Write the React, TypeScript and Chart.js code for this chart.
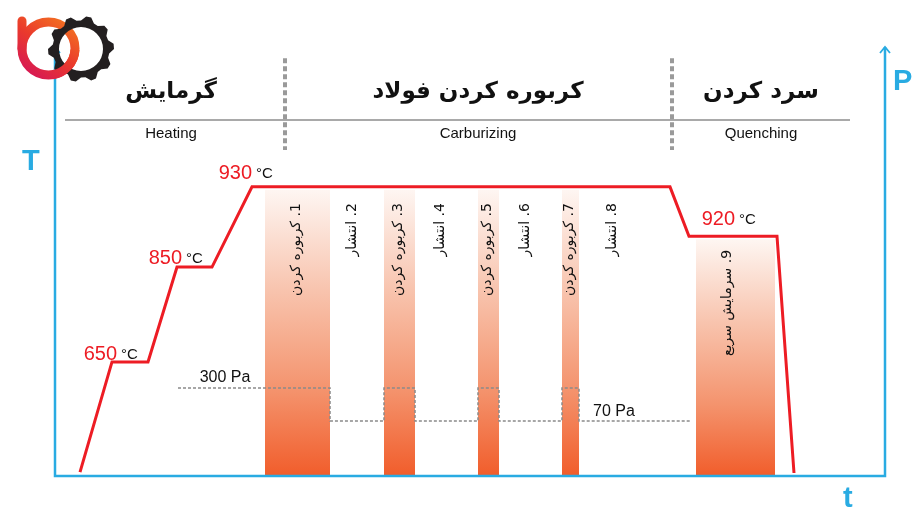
import React, { useEffect, useRef } from 'react';
import { Chart, registerables } from 'chart.js';
Chart.register(...registerables);

// ---- scale ranges (schematic time / level units) ----
const TIME_MAX = 830;
const LEVEL_MAX = 100;

// ---- temperature profile (schematic levels) ----
const tempTime = [25, 57, 93, 122, 157, 197, 615, 634, 722, 739];
const tempLevel = [0.9, 26.6, 26.6, 48.7, 48.7, 67.4, 67.4, 55.9, 55.9, 0.7];

// temperature labels
const tempLabelText = ['650', '850', '930', '920'];
const tempLabelTime = [62, 127, 197, 680];
const tempLabelLevel = [27.0, 49.4, 69.2, 58.5];

// ---- pressure profile (Pa) ----
const pressureTime = [123, 275, 275, 329, 329, 360, 360, 423, 423, 444, 444, 507, 507, 524, 524, 635];
const pressureValue = [300, 300, 70, 70, 300, 300, 70, 70, 300, 300, 70, 70, 300, 300, 70, 70];
const P_MIN = -312;
const P_MAX = 2674;
const pressureLabelText = ['300 Pa', '70 Pa'];
const pressureLabelTime = [170, 559];
const pressureLabelLevel = [21.9, 14.0];

// ---- process step bands ----
const bandStart = [210, 329, 423, 507, 641];
const bandEnd = [275, 360, 444, 524, 720];
const bandTop = [66.7, 66.7, 66.7, 66.7, 55.2];

// ---- step labels ----
const stepLabels = [
  '1. کربوره کردن',
  '2. انتشار',
  '3. کربوره کردن',
  '4. انتشار',
  '5. کربوره کردن',
  '6. انتشار',
  '7. کربوره کردن',
  '8. انتشار',
  '9. سرمایش سریع',
];
const stepLabelTime = [241, 297, 343, 385, 432, 470, 514, 557, 672];
const stepLabelLevel = [63.6, 63.6, 63.6, 63.6, 63.6, 63.6, 63.6, 63.6, 52.7];

// ---- phases ----
const phaseTitleFa = ['گرمایش', 'کربوره کردن فولاد', 'سرد کردن'];
const phaseTitleEn = ['Heating', 'Carburizing', 'Quenching'];
const phaseCenter = [116, 423, 706];
const phaseBoundary = [230, 617];

const BLUE = '#29abe2';
const RED = '#ed1c24';

function bandGradient(top: number) {
  return (ctx: any) => {
    const chart = ctx.chart;
    const { chartArea, scales } = chart;
    if (!chartArea) return 'rgba(0,0,0,0)';
    const y0 = scales.y.getPixelForValue(top);
    const y1 = scales.y.getPixelForValue(0);
    const g = chart.ctx.createLinearGradient(0, y0, 0, y1);
    g.addColorStop(0, '#fef6f2');
    g.addColorStop(0.35, '#f8c4ae');
    g.addColorStop(0.7, '#f4936d');
    g.addColorStop(1, '#f15d2b');
    return g;
  };
}

function drawLogo(ctx: CanvasRenderingContext2D) {
  const gx = 81, gy = 49;
  const teeth = 10;
  ctx.save();
  const g = ctx.createLinearGradient(72, 18, 28, 80);
  g.addColorStop(0, '#f47920');
  g.addColorStop(0.5, '#ea3a2c');
  g.addColorStop(1, '#d4145a');
  ctx.strokeStyle = g;
  ctx.lineWidth = 9;
  ctx.lineCap = 'round';
  // red b (under gear)
  ctx.beginPath();
  ctx.moveTo(22, 21);
  ctx.lineTo(22, 48.5);
  ctx.stroke();
  ctx.beginPath();
  ctx.arc(48.5, 48.5, 26.5, 0, Math.PI * 2);
  ctx.stroke();
  // gear
  ctx.fillStyle = '#231f20';
  ctx.beginPath();
  const steps = teeth * 4;
  for (let i = 0; i <= steps; i++) {
    const a = (i / steps) * Math.PI * 2 - Math.PI / 2;
    const phase = i % 4;
    const r = phase === 1 || phase === 2 ? 33 : 28.5;
    const x = gx + Math.cos(a) * r;
    const y = gy + Math.sin(a) * r;
    if (i === 0) ctx.moveTo(x, y);
    else ctx.lineTo(x, y);
  }
  ctx.closePath();
  ctx.moveTo(gx + 22, gy);
  ctx.arc(gx, gy, 22, 0, Math.PI * 2, true);
  ctx.fill('evenodd');
  // red arc over gear at the lower crossing
  ctx.lineCap = 'butt';
  ctx.beginPath();
  ctx.arc(48.5, 48.5, 26.5, 0.05, Math.PI * 0.45);
  ctx.stroke();
  ctx.restore();
}

const decor = {
  id: 'decor',
  afterDatasetsDraw(chart: any) {
    const { ctx, scales } = chart;
    const x = scales.x, y = scales.y;
    const L = x.getPixelForValue(0), R = x.getPixelForValue(TIME_MAX);
    const B = y.getPixelForValue(0), T = y.getPixelForValue(LEVEL_MAX);
    ctx.save();
    ctx.strokeStyle = BLUE;
    ctx.lineWidth = 2.5;
    ctx.lineCap = 'butt';
    ctx.beginPath();
    ctx.moveTo(L, T);
    ctx.lineTo(L, B);
    ctx.lineTo(R, B);
    ctx.lineTo(R, T);
    ctx.stroke();
    ctx.lineWidth = 1.8;
    for (const ax of [L, R]) {
      ctx.beginPath();
      ctx.moveTo(ax - 5, T + 6);
      ctx.lineTo(ax, T);
      ctx.lineTo(ax + 5, T + 6);
      ctx.stroke();
    }
    ctx.restore();
  },
  afterDraw(chart: any) {
    const { ctx, scales } = chart;
    const x = scales.x, y = scales.y;
    const L = x.getPixelForValue(0), R = x.getPixelForValue(TIME_MAX);
    const B = y.getPixelForValue(0), T = y.getPixelForValue(LEVEL_MAX);
    ctx.save();

    // header rule
    ctx.strokeStyle = '#8c8c8c';
    ctx.lineWidth = 1.5;
    ctx.beginPath();
    ctx.moveTo(x.getPixelForValue(10), y.getPixelForValue(83));
    ctx.lineTo(x.getPixelForValue(795), y.getPixelForValue(83));
    ctx.stroke();

    // phase separators
    ctx.strokeStyle = '#9a9a9a';
    ctx.lineWidth = 4;
    ctx.setLineDash([5, 3]);
    for (const b of phaseBoundary) {
      const px = x.getPixelForValue(b);
      ctx.beginPath();
      ctx.moveTo(px, y.getPixelForValue(97.4));
      ctx.lineTo(px, y.getPixelForValue(76));
      ctx.stroke();
    }
    ctx.setLineDash([]);

    // phase titles
    ctx.fillStyle = '#111';
    ctx.textAlign = 'center';
    ctx.textBaseline = 'alphabetic';
    phaseTitleFa.forEach((t, i) => {
      ctx.font = 'bold 23px "DejaVu Sans"';
      ctx.direction = 'rtl';
      ctx.fillText(t, x.getPixelForValue(phaseCenter[i]), y.getPixelForValue(88.1));
      ctx.direction = 'ltr';
      ctx.font = '15px "Liberation Sans", Arial';
      ctx.fillText(phaseTitleEn[i], x.getPixelForValue(phaseCenter[i]), y.getPixelForValue(78.8));
    });

    // temperature labels
    tempLabelText.forEach((t, i) => {
      const px = x.getPixelForValue(tempLabelTime[i]);
      const py = y.getPixelForValue(tempLabelLevel[i]);
      ctx.direction = 'ltr';
      ctx.textAlign = 'right';
      ctx.fillStyle = RED;
      ctx.font = '20px "Liberation Sans", Arial';
      ctx.fillText(t, px, py);
      ctx.textAlign = 'left';
      ctx.fillStyle = '#111';
      ctx.font = '15px "Liberation Sans", Arial';
      ctx.fillText('°C', px + 4, py - 1);
    });

    // pressure labels
    ctx.textAlign = 'center';
    ctx.fillStyle = '#111';
    ctx.font = '16px "Liberation Sans", Arial';
    pressureLabelText.forEach((t, i) => {
      ctx.fillText(t, x.getPixelForValue(pressureLabelTime[i]), y.getPixelForValue(pressureLabelLevel[i]));
    });

    // step labels (rotated)
    stepLabels.forEach((t, i) => {
      ctx.save();
      ctx.translate(x.getPixelForValue(stepLabelTime[i]), y.getPixelForValue(stepLabelLevel[i]));
      ctx.rotate(-Math.PI / 2);
      ctx.direction = 'rtl';
      ctx.textAlign = 'right';
      ctx.textBaseline = 'middle';
      ctx.fillStyle = '#111';
      ctx.font = '14px "DejaVu Sans"';
      ctx.fillText(t, 0, 0);
      ctx.restore();
    });

    // axis letters
    ctx.direction = 'ltr';
    ctx.fillStyle = BLUE;
    ctx.font = 'bold 29px "Liberation Sans", Arial';
    ctx.textAlign = 'left';
    ctx.textBaseline = 'alphabetic';
    ctx.fillText('T', L - 33, T + 123);
    ctx.fillText('P', R + 8, T + 43);
    ctx.fillText('t', R - 42, B + 31);

    drawLogo(ctx);
    ctx.restore();
  },
};

export default function App() {
  const ref = useRef<HTMLCanvasElement>(null);
  useEffect(() => {
    document.body.style.margin = '0';
    const bandSets = bandStart.map((s, i) => ({
      type: 'line' as const,
      data: [
        { x: s, y: 0 },
        { x: s, y: bandTop[i] },
        { x: bandEnd[i], y: bandTop[i] },
        { x: bandEnd[i], y: 0 },
      ],
      borderWidth: 0,
      borderColor: 'rgba(0,0,0,0)',
      pointRadius: 0,
      fill: 'origin',
      backgroundColor: bandGradient(bandTop[i]),
      order: 3,
      yAxisID: 'y',
    }));
    const chart = new Chart(ref.current!, {
      type: 'line',
      data: {
        datasets: [
          {
            data: tempTime.map((t, i) => ({ x: t, y: tempLevel[i] })),
            borderColor: RED,
            borderWidth: 3,
            pointRadius: 0,
            fill: false,
            borderJoinStyle: 'miter',
            order: 0,
            yAxisID: 'y',
          },
          {
            data: pressureTime.map((t, i) => ({ x: t, y: pressureValue[i] })),
            borderColor: '#8a8a8a',
            borderWidth: 1.5,
            borderDash: [3, 2],
            pointRadius: 0,
            fill: false,
            order: 1,
            yAxisID: 'yP',
          },
          ...bandSets,
        ] as any,
      },
      options: {
        responsive: false,
        animation: false,
        devicePixelRatio: 1,
        layout: { padding: { left: 55, right: 30, top: 47, bottom: 39 } },
        plugins: { legend: { display: false }, tooltip: { enabled: false } },
        scales: {
          x: { type: 'linear', min: 0, max: TIME_MAX, display: false },
          y: { type: 'linear', min: 0, max: LEVEL_MAX, display: false },
          yP: { type: 'linear', min: P_MIN, max: P_MAX, display: false },
        },
      },
      plugins: [decor],
    });
    return () => chart.destroy();
  }, []);
  return (
    <div style={{ width: 915, height: 515, position: 'relative', background: '#fff' }}>
      <canvas ref={ref} width={915} height={515} style={{ display: 'block' }} />
    </div>
  );
}
